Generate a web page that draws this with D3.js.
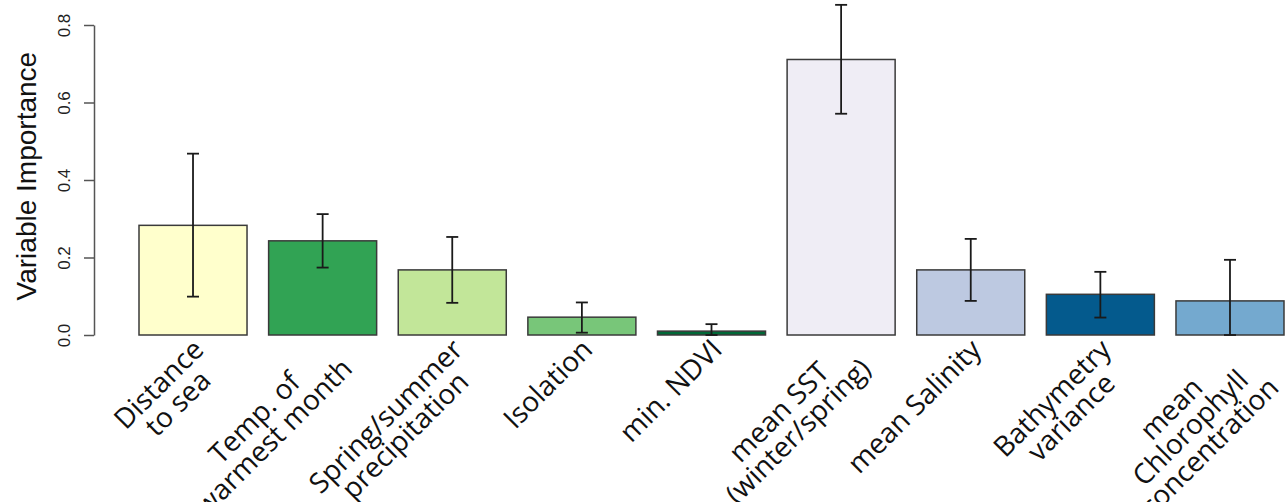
<!DOCTYPE html>
<html>
<head>
<meta charset="utf-8">
<script src="https://cdn.jsdelivr.net/npm/d3@7"></script>
<style>
  body { margin: 0; background: #fff; }
</style>
</head>
<body>
<svg width="1285" height="502"></svg>
<script>
// variable names, one line of the label per entry
let categories = [
  ['Distance', 'to sea'],
  ['Temp. of', 'warmest month'],
  ['Spring/summer', 'precipitation'],
  ['Isolation'],
  ['min. NDVI'],
  ['mean SST', '(winter/spring)'],
  ['mean Salinity'],
  ['Bathymetry', 'variance'],
  ['mean', 'Chlorophyll', 'concentration']
]
let importance = [0.283, 0.243, 0.168, 0.046, 0.010, 0.711, 0.168, 0.105, 0.088]
let lower = [0.099, 0.174, 0.083, 0.006, 0.000, 0.571, 0.088, 0.045, 0.000]
let upper = [0.468, 0.312, 0.253, 0.084, 0.028, 0.852, 0.248, 0.163, 0.194]
let colors = ['#ffffcc', '#31a354', '#c2e699', '#78c679', '#006837', '#efedf5', '#bdc9e1', '#045a8d', '#74a9cf']
let yTicks = [0, 0.2, 0.4, 0.6, 0.8]

let data = categories.map((c, i) => ({
  id: i, lines: c, value: importance[i], lo: lower[i], hi: upper[i], color: colors[i]
}))

let svg = d3.select('svg')

let x = d3.scaleBand()
  .domain(data.map(d => d.id))
  .range([128.2, 1294.8])
  .paddingInner(1 / 6)
  .paddingOuter(1 / 12)

let y = d3.scaleLinear().domain([0, 0.8]).range([335, 25])

// y axis, R style: labels turned parallel to the axis
let yAxis = svg.append('g')
  .attr('transform', 'translate(94,0)')
  .call(d3.axisLeft(y).tickValues(yTicks).tickSize(10).tickSizeOuter(0).tickFormat(d3.format('.1f')))
yAxis.select('.domain').attr('stroke', '#555').attr('stroke-width', 1.5)
yAxis.selectAll('.tick line').attr('stroke', '#555').attr('stroke-width', 1.5)
yAxis.selectAll('.tick text')
  .attr('x', null).attr('dy', null)
  .attr('transform', 'translate(-24,0) rotate(-90)')
  .attr('text-anchor', 'middle')
  .attr('font-family', 'Liberation Sans, Arial, sans-serif')
  .attr('font-size', 17)
  .attr('fill', '#222')

svg.append('text')
  .attr('transform', 'translate(36,' + y(0.41) + ') rotate(-90)')
  .attr('text-anchor', 'middle')
  .attr('font-family', 'Liberation Sans, Arial, sans-serif')
  .attr('font-size', 28)
  .attr('fill', '#111')
  .text('Variable Importance')

// bars
svg.selectAll('rect.bar')
  .data(data)
  .enter()
  .append('rect')
  .attr('class', 'bar')
  .attr('x', d => x(d.id))
  .attr('width', x.bandwidth())
  .attr('y', d => y(d.value))
  .attr('height', d => y(0) - y(d.value))
  .attr('fill', d => d.color)
  .attr('stroke', '#3a3a3a')
  .attr('stroke-width', 1.5)

// error bars
let cx = d => x(d.id) + x.bandwidth() / 2
let err = svg.selectAll('g.err').data(data).enter().append('g').attr('class', 'err')
  .attr('stroke', '#1a1a1a').attr('stroke-width', 1.8)
err.append('line')
  .attr('x1', cx).attr('x2', cx)
  .attr('y1', d => y(d.lo)).attr('y2', d => y(d.hi))
err.append('line')
  .attr('x1', d => cx(d) - 6).attr('x2', d => cx(d) + 6)
  .attr('y1', d => y(d.hi)).attr('y2', d => y(d.hi))
err.append('line')
  .attr('x1', d => cx(d) - 6).attr('x2', d => cx(d) + 6)
  .attr('y1', d => y(d.lo)).attr('y2', d => y(d.lo))

// slanted category labels, lines centred on each other
let fs = 28
let lh = 27
let labels = svg.selectAll('g.lab')
  .data(data)
  .enter()
  .append('g')
  .attr('class', 'lab')
  .attr('transform', d => 'translate(' + (cx(d) - 2) + ',' + (y(0) + 2) + ') rotate(-45)')
  .attr('font-family', 'Open Sans, sans-serif')
  .attr('font-size', fs)
  .attr('fill', '#111')

labels.each(function (d) {
  let g = d3.select(this)
  let texts = g.selectAll('text')
    .data(d.lines)
    .enter()
    .append('text')
    .attr('text-anchor', 'middle')
    .attr('y', (l, i) => i * lh + fs * 0.72)
    .text(l => l)
  let w = d3.max(texts.nodes(), n => n.getComputedTextLength())
  texts.attr('x', -w / 2)
})
</script>
</body>
</html>
